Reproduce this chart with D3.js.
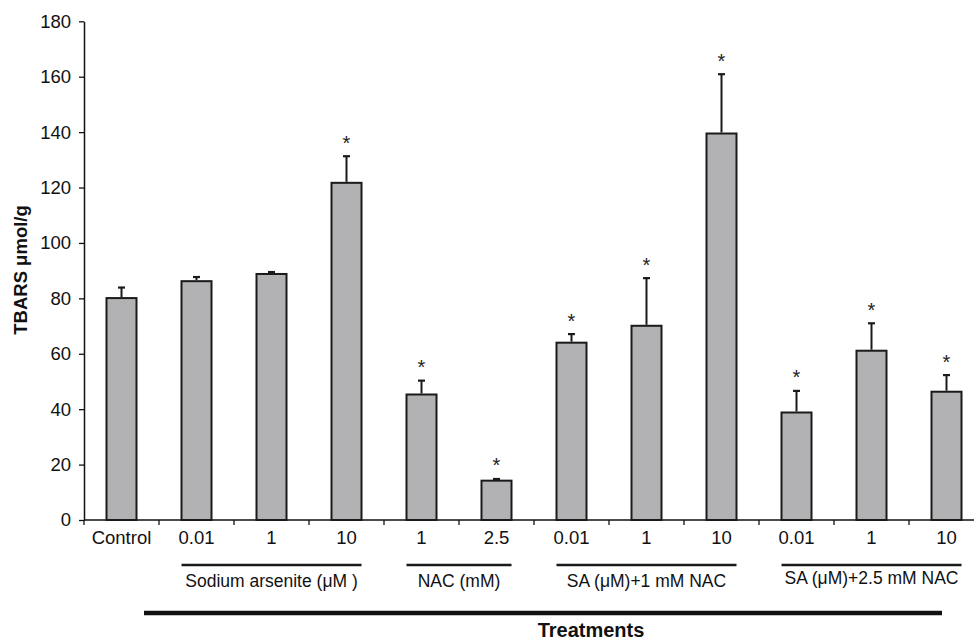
<!DOCTYPE html>
<html>
<head>
<meta charset="utf-8">
<script src="https://cdn.jsdelivr.net/npm/d3@7"></script>
<style>
  body { margin: 0; background: #fff; }
  svg { display: block; font-family: "Liberation Sans", Arial, sans-serif; }
</style>
</head>
<body>
<div id="chart"></div>
<script>
const categories = ["Control", "0.01", "1", "10", "1", "2.5", "0.01", "1", "10", "0.01", "1", "10"];
const means = [80.1, 86.2, 88.8, 121.7, 45.3, 14.2, 64.0, 70.1, 139.5, 38.8, 61.1, 46.3];
const errors = [3.8, 1.5, 0.7, 9.6, 5.0, 0.6, 3.1, 17.2, 21.4, 7.8, 9.9, 6.0];
const significant = [false, false, false, true, true, true, true, true, true, true, true, true];
const groupLabels = ["Sodium arsenite (μM )", "NAC (mM)", "SA (μM)+1 mM NAC", "SA (μM)+2.5 mM NAC"];
const groupFirst = [1, 4, 6, 9];
const groupLast = [3, 5, 8, 11];
const yTicks = [0, 20, 40, 60, 80, 100, 120, 140, 160, 180];

const width = 974;
const height = 642;

const svg = d3.select("#chart")
  .append("svg")
  .attr("width", width)
  .attr("height", height);

const idx = d3.range(categories.length);

const x = d3.scaleBand()
  .domain(idx)
  .range([84, 984])
  .paddingInner(0)
  .paddingOuter(0);

const y = d3.scaleLinear()
  .domain([0, 180])
  .range([520, 21.3]);

const barW = 30;
const cx = i => x(i) + x.bandwidth() / 2;

// os Y
const yAxis = svg.append("g")
  .attr("transform", "translate(84,0)")
  .call(d3.axisLeft(y).tickValues(yTicks).tickSize(5).tickPadding(8).tickSizeOuter(0));
yAxis.select(".domain").attr("stroke", "#111").attr("stroke-width", 1.5);
yAxis.selectAll(".tick line").attr("stroke", "#111").attr("stroke-width", 1.3);
yAxis.selectAll("text")
  .attr("font-size", 18.5)
  .attr("fill", "#111")
  .attr("font-family", "Liberation Sans, Arial, sans-serif");

// os X - kreski na granicach kategorii
const xAxis = svg.append("g").attr("class", "xaxis");
xAxis.append("line")
  .attr("x1", 84).attr("x2", width)
  .attr("y1", y(0)).attr("y2", y(0))
  .attr("stroke", "#111").attr("stroke-width", 1.5);
xAxis.selectAll("line.tick")
  .data(idx.concat([categories.length]))
  .join("line")
  .attr("class", "tick")
  .attr("x1", d => d < categories.length ? x(d) : x(d - 1) + x.bandwidth())
  .attr("x2", d => d < categories.length ? x(d) : x(d - 1) + x.bandwidth())
  .attr("y1", y(0)).attr("y2", y(0) + 5)
  .attr("stroke", "#111").attr("stroke-width", 1.3);
xAxis.selectAll("text")
  .data(idx)
  .join("text")
  .attr("x", d => cx(d))
  .attr("y", 544)
  .attr("text-anchor", "middle")
  .attr("font-size", 18.5)
  .attr("fill", "#111")
  .text(d => categories[d]);

// slupki
svg.append("g")
  .selectAll("rect")
  .data(idx)
  .join("rect")
  .attr("x", d => cx(d) - barW / 2)
  .attr("y", d => y(means[d]))
  .attr("width", barW)
  .attr("height", d => y(0) - y(means[d]))
  .attr("fill", "#b2b2b4")
  .attr("stroke", "#1a1a1a")
  .attr("stroke-width", 2);

// slupki bledow (tylko w gore)
const err = svg.append("g");
err.selectAll("line.v")
  .data(idx)
  .join("line")
  .attr("class", "v")
  .attr("x1", d => cx(d)).attr("x2", d => cx(d))
  .attr("y1", d => y(means[d]) - 1)
  .attr("y2", d => y(means[d] + errors[d]))
  .attr("stroke", "#1a1a1a").attr("stroke-width", 2);
err.selectAll("line.cap")
  .data(idx)
  .join("line")
  .attr("class", "cap")
  .attr("x1", d => cx(d) - 3.5).attr("x2", d => cx(d) + 3.5)
  .attr("y1", d => y(means[d] + errors[d]))
  .attr("y2", d => y(means[d] + errors[d]))
  .attr("stroke", "#1a1a1a").attr("stroke-width", 2.2);

// gwiazdki istotnosci
svg.append("g")
  .selectAll("text")
  .data(idx.filter(d => significant[d]))
  .join("text")
  .attr("x", d => cx(d))
  .attr("y", d => y(means[d] + errors[d]) - 6.5)
  .attr("text-anchor", "middle")
  .attr("font-size", 20)
  .attr("fill", "#222")
  .text("*");

// podpisy grup zabiegow
const groups = svg.append("g");
groupLabels.forEach((label, i) => {
  const x1 = cx(groupFirst[i]) - barW / 2;
  const x2 = cx(groupLast[i]) + barW / 2;
  groups.append("line")
    .attr("x1", x1).attr("x2", x2)
    .attr("y1", 565).attr("y2", 565)
    .attr("stroke", "#1a1a1a").attr("stroke-width", 2.5);
  groups.append("text")
    .attr("x", (x1 + x2) / 2)
    .attr("y", i === 3 ? 584 : 587)
    .attr("text-anchor", "middle")
    .attr("font-size", 17.5)
    .attr("fill", "#111")
    .text(label);
});

// linia "Treatments"
svg.append("line")
  .attr("x1", x(0) + 60).attr("x2", x(11) + 33)
  .attr("y1", 613).attr("y2", 613)
  .attr("stroke", "#111").attr("stroke-width", 4.5);
svg.append("text")
  .attr("x", 591)
  .attr("y", 637)
  .attr("text-anchor", "middle")
  .attr("font-size", 20)
  .attr("font-weight", "bold")
  .attr("fill", "#111")
  .text("Treatments");

// tytul osi Y
svg.append("text")
  .attr("transform", "translate(27,270) rotate(-90)")
  .attr("text-anchor", "middle")
  .attr("font-size", 18.5)
  .attr("font-weight", "bold")
  .attr("fill", "#111")
  .text("TBARS μmol/g");
</script>
</body>
</html>
